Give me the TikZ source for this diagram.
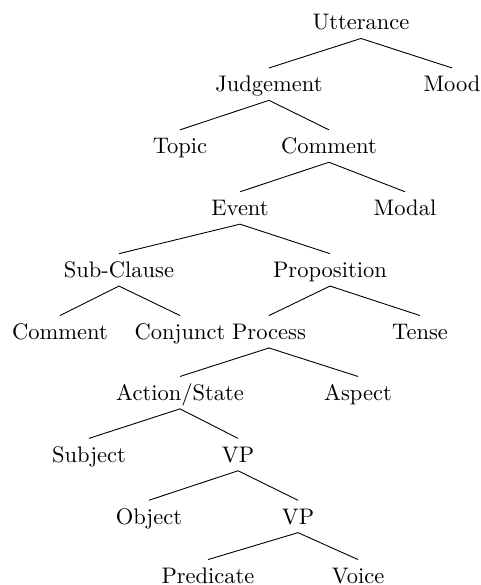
\documentclass[tikz,border=0pt]{standalone}
\begin{document}
\begin{tikzpicture}[x=1pt,y=-1pt,
  lbl/.style={anchor=base,inner sep=0pt,scale=2.25,text height=10.44pt,text depth=3.56pt},
  lastrow/.style={lbl,text depth=0pt},
  edge/.style={line width=0.9pt}]
\useasboundingbox (0,0) rectangle (480,585);
\node[lbl] (u) at (361,30) {Utterance};
\node[lbl] (j) at (269,91.9) {Judgement};
\node[lbl] (mood) at (452,91.9) {Mood};
\node[lbl] (topic) at (180,153.8) {Topic};
\node[lbl] (com1) at (329,153.8) {Comment};
\node[lbl] (event) at (240,215.7) {Event};
\node[lbl] (modal) at (405,215.7) {Modal};
\node[lbl] (sub) at (119,277.6) {Sub-Clause};
\node[lbl] (prop) at (330,277.6) {Proposition};
\node[lbl] (com2) at (60,339.5) {Comment};
\node[lbl] (conj) at (180,339.5) {Conjunct};
\node[lbl] (proc) at (269,339.5) {Process};
\node[lbl] (tense) at (420,339.5) {Tense};
\node[lbl] (act) at (180,400.4) {Action/State};
\node[lbl] (aspect) at (358,400.4) {Aspect};
\node[lbl] (subj) at (89,462.3) {Subject};
\node[lbl] (vp1) at (238,462.3) {VP};
\node[lbl] (obj) at (149,524.2) {Object};
\node[lbl] (vp2) at (298,524.2) {VP};
\node[lastrow] (pred) at (208,583.5) {Predicate};
\node[lastrow] (voice) at (358,583.5) {Voice};
\draw[edge] (j.north) -- (u.south) -- (mood.north);
\draw[edge] (topic.north) -- (j.south) -- (com1.north);
\draw[edge] (event.north) -- (com1.south) -- (modal.north);
\draw[edge] (sub.north) -- (event.south) -- (prop.north);
\draw[edge] (com2.north) -- (sub.south) -- (conj.north);
\draw[edge] (proc.north) -- (prop.south) -- (tense.north);
\draw[edge] (act.north) -- (proc.south) -- (aspect.north);
\draw[edge] (subj.north) -- (act.south) -- (vp1.north);
\draw[edge] (obj.north) -- (vp1.south) -- (vp2.north);
\draw[edge] (pred.north) -- (vp2.south) -- (voice.north);
\end{tikzpicture}
\end{document}
